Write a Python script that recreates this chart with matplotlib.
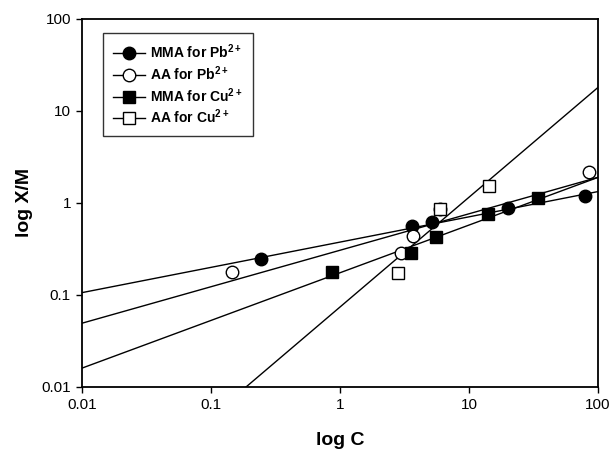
import numpy as np
import matplotlib
matplotlib.use('Agg')
import matplotlib.pyplot as plt
from matplotlib.lines import Line2D

plt.rcParams['font.family'] = ['Liberation Sans', 'DejaVu Sans']
plt.rcParams['mathtext.fontset'] = 'custom'
plt.rcParams['mathtext.rm'] = 'Liberation Sans'
plt.rcParams['mathtext.bf'] = 'Liberation Sans:bold'

# measured points (C, X/M)
mma_pb_c = [0.245, 3.6, 5.2, 20.2, 79.3]
mma_pb_q = [0.247, 0.556, 0.614, 0.867, 1.19]
aa_pb_c = [0.146, 2.95, 3.66, 5.96, 85.6]
aa_pb_q = [0.176, 0.287, 0.432, 0.845, 2.14]
mma_cu_c = [0.862, 3.55, 5.5, 14.1, 34.1]
mma_cu_q = [0.176, 0.287, 0.425, 0.751, 1.13]
aa_cu_c = [2.83, 5.96, 14.3]
aa_cu_q = [0.174, 0.845, 1.52]

# Freundlich fits  X/M = K * C^n
fit_k = {'mma_pb': 0.373, 'aa_pb': 0.304, 'mma_cu': 0.173, 'aa_cu': 0.0733}
fit_n = {'mma_pb': 0.275, 'aa_pb': 0.397, 'mma_cu': 0.519, 'aa_cu': 1.195}

labels = [r'MMA for Pb$^{\mathbf{2+}}$', r'AA for Pb$^{\mathbf{2+}}$',
          r'MMA for Cu$^{\mathbf{2+}}$', r'AA for Cu$^{\mathbf{2+}}$']

fig = plt.figure(figsize=(6.11, 4.5), dpi=100)
ax = fig.add_axes([82/611, 1-386.5/450, (598-82)/611, (386.5-19)/450])

series = [
 ('mma_pb', mma_pb_c, mma_pb_q, 'o', 'k'),
 ('aa_pb', aa_pb_c, aa_pb_q, 'o', 'w'),
 ('mma_cu', mma_cu_c, mma_cu_q, 's', 'k'),
 ('aa_cu', aa_cu_c, aa_cu_q, 's', 'w'),
]

xx = np.logspace(-2, 2, 200)
for key, c, q, m, fc in series:
 ax.plot(xx, fit_k[key] * xx ** fit_n[key], '-', color='k', lw=1.0, zorder=2)
handles = []
for (key, c, q, m, fc), lab in zip(series, labels):
 ax.plot(c, q, linestyle='none', marker=m, markersize=9, mfc=fc,
         mec='k', mew=1.0, zorder=3)
 handles.append(Line2D([], [], color='k', lw=1.0, marker=m, markersize=9,
                       mfc=fc, mec='k', mew=1.0, label=lab))

ax.set_xscale('log')
ax.set_yscale('log')
ax.set_xlim(0.01, 100)
ax.set_ylim(0.01, 100)
ticks = [0.01, 0.1, 1, 10, 100]
ax.set_xticks(ticks)
ax.set_xticklabels(['0.01', '0.1', '1', '10', '100'])
ax.set_yticks(ticks)
ax.set_yticklabels(['0.01', '0.1', '1', '10', '100'])
ax.minorticks_off()
ax.tick_params(direction='out', length=4, width=1, labelsize=11, pad=4)
for s in ax.spines.values():
 s.set_linewidth(1.3)

ax.set_xlabel('log C', fontsize=14, fontweight='bold', labelpad=15)
ax.set_ylabel('log X/M', fontsize=14, fontweight='bold', labelpad=6)

leg = ax.legend(handles=handles, loc='upper left', bbox_to_anchor=(0.041, 0.962),
                borderaxespad=0, prop={'weight': 'bold', 'size': 10},
                frameon=True, fancybox=False, edgecolor='k', handlelength=2.3,
                handletextpad=0.4, labelspacing=0.22, borderpad=0.7)
leg.get_frame().set_linewidth(1.0)

fig.savefig('out.png', dpi=100)
